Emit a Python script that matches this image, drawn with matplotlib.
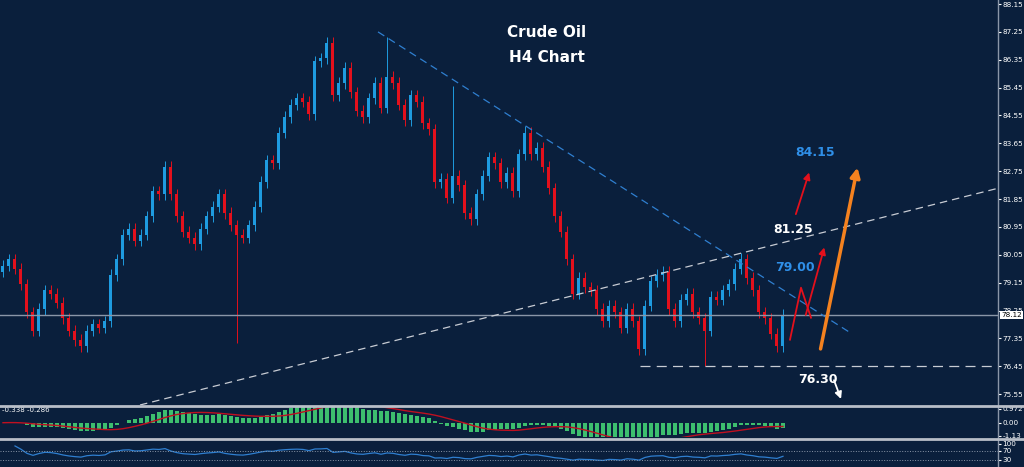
import matplotlib
matplotlib.use("Agg")
import matplotlib.pyplot as plt
import numpy as np
import pandas as pd

closes = [79.7,79.9,79.6,79.1,78.2,77.6,78.3,78.9,78.8,78.5,78.0,77.6,77.3,77.1,77.6,77.8,77.7,77.9,79.4,79.9,
          80.7,80.9,80.5,80.7,81.3,82.1,82.0,82.9,82.0,81.3,80.8,80.6,80.4,80.9,81.3,81.6,82.0,81.4,81.0,80.7,
          80.6,81.0,81.6,82.4,83.1,83.0,84.0,84.5,84.9,85.1,85.0,84.6,86.3,86.4,86.9,85.2,85.6,86.1,85.3,84.7,
          84.5,85.1,85.6,84.8,85.8,85.6,84.9,84.4,85.2,85.0,84.3,84.1,82.4,82.5,81.9,82.6,82.3,81.4,81.2,82.0,
          82.6,83.2,83.0,82.4,82.7,82.1,83.3,84.0,83.3,83.5,82.9,82.2,81.3,80.8,79.9,78.8,79.3,79.0,78.9,78.3,
          77.9,78.4,78.2,77.7,78.3,77.9,77.0,78.4,79.2,79.4,79.5,78.3,77.9,78.6,78.8,78.2,78.0,77.6,78.7,78.6,
          78.9,79.1,79.6,79.9,79.3,78.9,78.2,78.0,77.5,77.1,78.12]
first_open = 79.5
spike_high = {64: 87.1, 75: 85.5, 87: 84.2, 123: 80.1}
spike_low = {13: 76.9, 39: 77.2, 106: 76.8, 117: 76.45, 129: 76.9}

price_ticks = [88.15,87.25,86.35,85.45,84.55,83.65,82.75,81.85,80.95,80.05,79.15,78.25,77.35,76.45,75.55]
current = 78.12

BG = "#0a1f3c"; UP = "#1e9be0"; DN = "#e3101c"; GRID = "#8a96a8"
W, H = 1024, 467
fig = plt.figure(figsize=(W/100, H/100), dpi=100, facecolor=BG)
AX_R = 998

def mkax(top, bot):
    ax = fig.add_axes([0, 1-bot/H, AX_R/W, (bot-top)/H], facecolor=BG)
    ax.set_xlim(0, AX_R)
    for s in ax.spines.values(): s.set_visible(False)
    ax.tick_params(colors="white", labelsize=5.2, length=2, direction="out", pad=1)
    ax.yaxis.tick_right()
    ax.set_xticks([])
    return ax

n = len(closes)
xs = np.arange(n)*6 + 3
opens = [first_open] + closes[:-1]

ax = mkax(0, 405)
ax.set_ylim(75.2, 88.28)
for i in range(n):
    o, c = opens[i], closes[i]
    col = UP if c >= o else DN
    hi = spike_high.get(i, max(o, c) + 0.18)
    lo = spike_low.get(i, min(o, c) - 0.18)
    ax.vlines(xs[i], lo, hi, color=col, lw=0.7)
    ax.bar(xs[i], max(abs(c-o), 0.05), bottom=min(o, c), width=3.0, color=col, lw=0)
ax.set_yticks(price_ticks)
ax.set_yticklabels([f"{t:.2f}" for t in price_ticks])
ax.axhline(current, color=GRID, lw=1)
ax.text(AX_R+3, current, f"{current:.2f}", color="black", fontsize=5.2, va="center",
        bbox=dict(fc="white", ec="none", pad=0.8), clip_on=False, zorder=10)
# trendlines
ax.plot([378, 850], [87.25, 77.54], color="#2f7fd0", lw=0.9, ls=(0, (6, 4)))
ax.plot([140, 998], [75.2, 82.2], color="#c8ccd4", lw=0.9, ls=(0, (6, 4)))
ax.plot([640, 998], [76.45, 76.45], color="#c8ccd4", lw=0.9, ls=(0, (8, 5)))
fig.add_artist(plt.Line2D([AX_R/W]*2, [0, 1], color=GRID, lw=1))

def py(y): return 88.15 - (y-4)*0.03226
arr = dict(arrowstyle="-|>", lw=1.3, mutation_scale=10)
ax.annotate("", xy=(810, py(170)), xytext=(795, py(217)), arrowprops=dict(color=DN, **arr))
ax.annotate("", xy=(825, py(245)), xytext=(805, py(318)), arrowprops=dict(color=DN, **arr))
ax.plot([790, 801, 811], [py(340), py(288), py(318)], color=DN, lw=1.3)
ax.annotate("", xy=(858, py(165)), xytext=(820, py(352)),
            arrowprops=dict(color="#f5821f", arrowstyle="-|>", lw=2.5, mutation_scale=14))
ax.annotate("", xy=(842, py(402)), xytext=(833, py(378)), arrowprops=dict(color="white", **arr))
ax.text(795, py(153), "84.15", color="#2f8fe8", fontsize=9, fontweight="bold", va="center")
ax.text(773, py(230), "81.25", color="white", fontsize=9, fontweight="bold", va="center")
ax.text(775, py(268), "79.00", color="#2f8fe8", fontsize=9, fontweight="bold", va="center")
ax.text(798, py(380), "76.30", color="white", fontsize=9, fontweight="bold", va="center")
ax.text(547, py(33), "Crude Oil", color="white", fontsize=11, fontweight="bold", ha="center", va="center")
ax.text(547, py(58), "H4 Chart", color="white", fontsize=11, fontweight="bold", ha="center", va="center")

# MACD
s = pd.Series(closes)
macd = s.ewm(span=12, adjust=False).mean() - s.ewm(span=26, adjust=False).mean()
sig = macd.rolling(9, min_periods=1).mean()
ax2 = mkax(407, 437)
ax2.bar(xs, macd, width=4.5, color="#3dbf6e", lw=0)
ax2.plot(xs, sig, color="#c01020", lw=1)
ax2.set_ylim(-1.0, 1.1)
ax2.set_yticks([0.972, 0.0, -0.9]); ax2.set_yticklabels(["0.972", "0.00", "-1.13"])
ax2.text(2, 0.9, "-0.338 -0.286", color="white", fontsize=5, va="center")

# RSI
delta = s.diff()
g = delta.clip(lower=0).ewm(alpha=1/14, adjust=False).mean()
l = (-delta.clip(upper=0)).ewm(alpha=1/14, adjust=False).mean()
rsi = 100 - 100/(1 + g/l.replace(0, np.nan))
ax3 = mkax(440, 467)
ax3.plot(xs, rsi, color="#2f7fd0", lw=0.9)
ax3.set_ylim(0, 115)
for lv in (70, 30): ax3.axhline(lv, color=GRID, lw=0.7, ls=":")
ax3.set_yticks([100, 70, 30]); ax3.set_yticklabels(["100", "70", "30"])

for y in (405.5, 438.5):
    fig.add_artist(plt.Line2D([0, 1], [1-y/H]*2, color="#b8bec8", lw=2))

fig.savefig("out.png", dpi=100, facecolor=BG)
